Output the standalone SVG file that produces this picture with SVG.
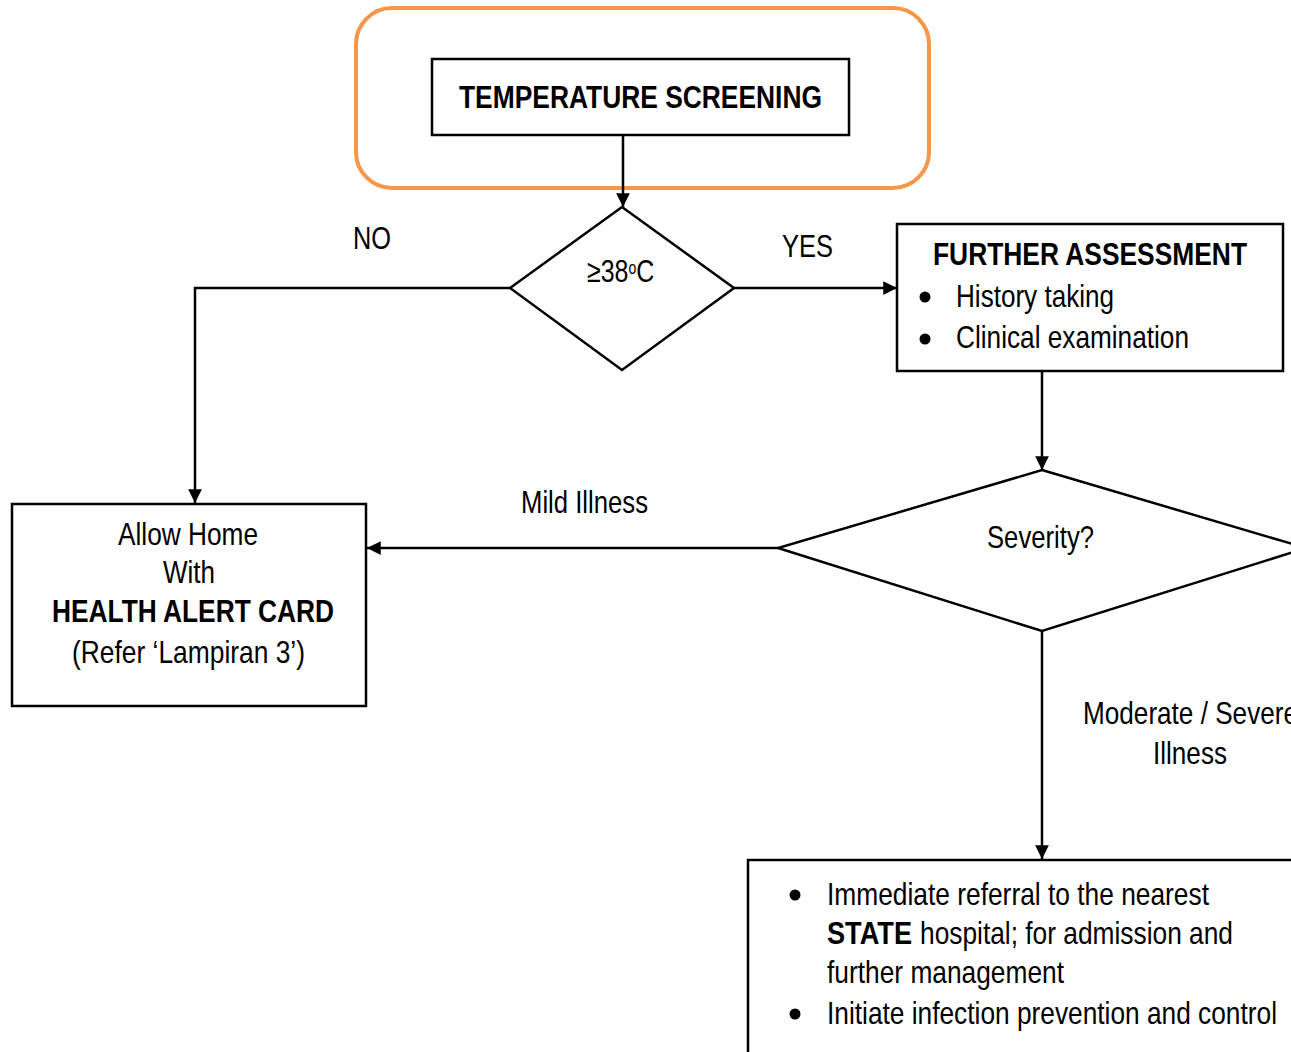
<svg xmlns="http://www.w3.org/2000/svg" width="1291" height="1052" viewBox="0 0 1291 1052">
<style>
text{font-family:"Liberation Sans Narrow","Arial Narrow","Liberation Sans",Arial,sans-serif;font-size:32px;fill:#000}
.b{font-weight:bold}
.m{text-anchor:middle}
.box{fill:#fff;stroke:#000;stroke-width:2.5}
.con{fill:none;stroke:#000;stroke-width:2.5}
</style>
<defs>
<marker id="arr" viewBox="0 0 10 10" refX="10" refY="5" markerWidth="6" markerHeight="5.5" markerUnits="strokeWidth" orient="auto">
<path d="M0,0 L10,5 L0,10 Z" fill="#000"/>
</marker>
</defs>
<rect width="1291" height="1052" fill="#fff"/>
<g id="frame">
<rect x="356" y="8" width="573" height="180" rx="36" ry="36" fill="none" stroke="#F79646" stroke-width="4"/>
</g>
<g id="connectors">
<line class="con" x1="623" y1="135" x2="623" y2="207" marker-end="url(#arr)"/>
<polyline class="con" points="510,288 195,288 195,503" marker-end="url(#arr)"/>
<line class="con" x1="734" y1="288" x2="897" y2="288" marker-end="url(#arr)"/>
<line class="con" x1="1042" y1="371" x2="1042" y2="470" marker-end="url(#arr)"/>
<line class="con" x1="778" y1="548" x2="367" y2="548" marker-end="url(#arr)"/>
<line class="con" x1="1042" y1="631" x2="1042" y2="859" marker-end="url(#arr)"/>
<text x="353" y="249" textLength="38" lengthAdjust="spacingAndGlyphs">NO</text>
<text x="782" y="257" textLength="51" lengthAdjust="spacingAndGlyphs">YES</text>
<text x="521" y="513" textLength="127" lengthAdjust="spacingAndGlyphs">Mild Illness</text>
<text x="1083" y="724" textLength="215" lengthAdjust="spacingAndGlyphs">Moderate / Severe</text>
<text x="1153" y="764" textLength="74" lengthAdjust="spacingAndGlyphs">Illness</text>
</g>
<g id="temperature-screening">
<rect class="box" x="432" y="59" width="417" height="76"/>
<text class="b" x="459" y="108" textLength="363" lengthAdjust="spacingAndGlyphs">TEMPERATURE SCREENING</text>
</g>
<g id="decision-temp">
<polygon class="box" points="622,207 734,288 622,370 510,288"/>
<text transform="translate(587,282) scale(0.78,1)">≥38<tspan dy="-8" style="font-size:18px">o</tspan><tspan dy="8">C</tspan></text>
</g>
<g id="further-assessment">
<rect class="box" x="897" y="224" width="386" height="147"/>
<text class="b" x="933" y="265" textLength="314" lengthAdjust="spacingAndGlyphs">FURTHER ASSESSMENT</text>
<circle cx="925" cy="297" r="5.5"/>
<text x="956" y="307" textLength="158" lengthAdjust="spacingAndGlyphs">History taking</text>
<circle cx="925" cy="339" r="5.5"/>
<text x="956" y="348" textLength="233" lengthAdjust="spacingAndGlyphs">Clinical examination</text>
</g>
<g id="decision-severity">
<polygon class="box" points="1042,470 1306,548 1042,631 778,548"/>
<text x="987" y="548" textLength="107" lengthAdjust="spacingAndGlyphs">Severity?</text>
</g>
<g id="allow-home">
<rect class="box" x="12" y="504" width="354" height="202"/>
<text x="118" y="545" textLength="140" lengthAdjust="spacingAndGlyphs">Allow Home</text>
<text x="163" y="583" textLength="52" lengthAdjust="spacingAndGlyphs">With</text>
<text class="b" x="52" y="622" textLength="282" lengthAdjust="spacingAndGlyphs">HEALTH ALERT CARD</text>
<text x="72" y="663" textLength="233" lengthAdjust="spacingAndGlyphs">(Refer ‘Lampiran 3’)</text>
</g>
<g id="referral">
<rect class="box" x="748" y="860" width="560" height="210"/>
<circle cx="795" cy="895" r="5.5"/>
<text x="827" y="905" textLength="382" lengthAdjust="spacingAndGlyphs">Immediate referral to the nearest</text>
<text class="b" x="827" y="944" textLength="85" lengthAdjust="spacingAndGlyphs">STATE</text>
<text x="920" y="944" textLength="313" lengthAdjust="spacingAndGlyphs">hospital; for admission and</text>
<text x="827" y="983" textLength="237" lengthAdjust="spacingAndGlyphs">further management</text>
<circle cx="795" cy="1014" r="5.5"/>
<text x="827" y="1024" textLength="450" lengthAdjust="spacingAndGlyphs">Initiate infection prevention and control</text>
</g>
</svg>
